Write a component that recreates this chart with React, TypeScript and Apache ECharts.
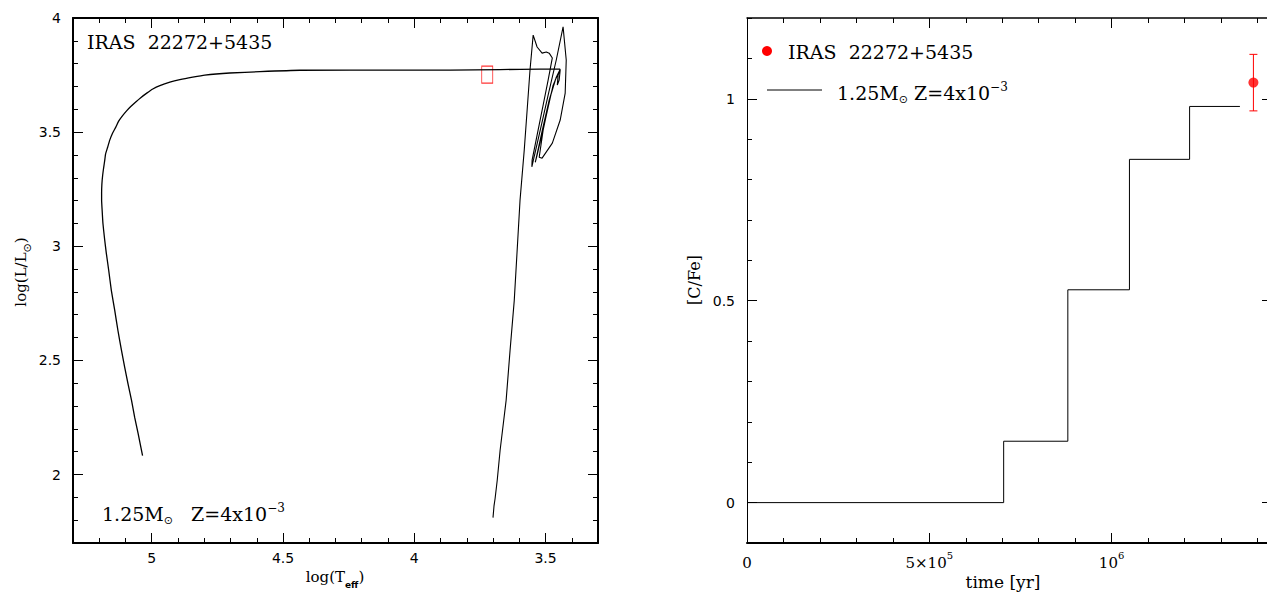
import React, { useEffect, useRef } from "react";
import * as echarts from "echarts";

// ---------- data ----------
const hrMajorX = [3.5, 4, 4.5, 5];
const hrMajorY = [2, 2.5, 3, 3.5, 4];
const cfeMajorX = [0, 5e5, 1e6];
const cfeMajorY = [0, 0.5, 1];

// AGB part of the 1.25 Msun, Z=4e-3 track: [log Teff, log L/Lsun]
const agbTrack: [number, number][] = [
  [3.700, 1.811], [3.696, 1.864], [3.692, 1.895], [3.684, 1.974], [3.673, 2.105],
  [3.650, 2.325], [3.635, 2.544], [3.619, 2.763], [3.608, 2.982], [3.597, 3.202],
  [3.581, 3.421], [3.570, 3.596], [3.559, 3.772], [3.547, 3.925],
  [3.532, 3.873], [3.513, 3.846], [3.497, 3.851], [3.486, 3.846], [3.474, 3.825],
  [3.490, 3.728], [3.509, 3.618], [3.532, 3.487], [3.551, 3.377], [3.552, 3.348],
  [3.520, 3.509], [3.490, 3.662], [3.459, 3.816], [3.433, 3.961],
  [3.421, 3.816], [3.425, 3.671], [3.444, 3.553], [3.474, 3.452], [3.513, 3.386], [3.524, 3.390],
  [3.509, 3.509], [3.482, 3.654], [3.459, 3.741], [3.444, 3.776],
  [3.471, 3.706], [3.501, 3.553], [3.532, 3.399], [3.539, 3.368],
  [3.512, 3.509], [3.486, 3.640], [3.463, 3.728], [3.444, 3.772],
  [3.448, 3.728], [3.455, 3.706], [3.452, 3.750], [3.444, 3.776],
];

// post-AGB / white dwarf cooling part
const postAgbTrack: [number, number][] = [
  [3.444, 3.776], [3.520, 3.776], [3.673, 3.774], [3.863, 3.772], [4.054, 3.772],
  [4.436, 3.771], [4.588, 3.765], [4.703, 3.759], [4.798, 3.750], [4.844, 3.741],
  [4.893, 3.730], [4.931, 3.719], [4.969, 3.704], [4.996, 3.689], [5.019, 3.671],
  [5.042, 3.651], [5.061, 3.632], [5.080, 3.612], [5.095, 3.594], [5.111, 3.572],
  [5.126, 3.548], [5.137, 3.522], [5.149, 3.496], [5.160, 3.465], [5.168, 3.434],
  [5.176, 3.404], [5.179, 3.377], [5.183, 3.346], [5.187, 3.311], [5.190, 3.272],
  [5.191, 3.232], [5.191, 3.202], [5.189, 3.158], [5.186, 3.101], [5.180, 3.035],
  [5.173, 2.969], [5.164, 2.895], [5.154, 2.807], [5.141, 2.719], [5.129, 2.632],
  [5.116, 2.548], [5.103, 2.469], [5.090, 2.395], [5.077, 2.325], [5.065, 2.250],
  [5.052, 2.180], [5.035, 2.083],
];

const irasHR: [number, number][] = [[3.722, 3.752]];

// [C/Fe] vs time
const cfeTime = [0, 0.704e6, 0.880e6, 1.049e6, 1.214e6, 1.352e6];
const cfeValue = [0, 0.152, 0.527, 0.850, 0.981, 0.981];

// IRAS 22272+5435 : time, [C/Fe], low, high
const irasCFe: [number, number, number, number][] = [[1.389e6, 1.04, 0.97, 1.11]];

// ---------- helpers ----------
const stepTicks = (lo: number, hi: number, step: number) => {
  const out: number[] = [];
  const n = Math.round((hi - lo) / step);
  for (let i = 0; i <= n; i++) out.push(+(lo + i * step).toFixed(6));
  return out;
};

const SERIF = "DejaVu Serif";
const SANS = "DejaVu Sans";

type AxOpt = {
  grid: number;
  pos: string;
  min: number;
  max: number;
  inverse?: boolean;
  ticks: number[];
  len: number;
  line?: number;
  labels?: any;
};

const mkAxis = (o: AxOpt) => ({
  type: "value",
  gridIndex: o.grid,
  position: o.pos,
  min: o.min,
  max: o.max,
  inverse: !!o.inverse,
  splitLine: { show: false },
  axisLine: {
    show: !!o.line,
    onZero: false,
    lineStyle: { color: "#000", width: o.line || 1 },
  },
  axisTick: {
    show: true,
    inside: true,
    length: o.len,
    customValues: o.ticks,
    lineStyle: { color: "#000", width: 1 },
  },
  axisLabel: o.labels
    ? { show: true, customValues: o.ticks, ...o.labels }
    : { show: false },
});

export default function App() {
  const ref = useRef<HTMLDivElement>(null);

  useEffect(() => {
    if (!ref.current) return;
    const chart = echarts.init(ref.current, undefined, { renderer: "svg" });

    const hrMinorX = stepTicks(3.3, 5.3, 0.1);
    const hrMinorY = stepTicks(1.7, 4.0, 0.1);
    const cfeMinorX = stepTicks(0, 1.4e6, 1e5);
    const cfeMinorY = stepTicks(-0.1, 1.2, 0.1);

    const lblL = { color: "#000", fontFamily: SANS, fontSize: 14 };
    const lblR = { color: "#000", fontFamily: SANS, fontSize: 14 };

    const xAxes = [
      // left panel
      mkAxis({ grid: 0, pos: "bottom", min: 3.3, max: 5.3, inverse: true, ticks: hrMajorX, len: 10, line: 2,
        labels: { ...lblL, margin: 8, formatter: (v: number) => String(v) } }),
      mkAxis({ grid: 0, pos: "bottom", min: 3.3, max: 5.3, inverse: true, ticks: hrMinorX, len: 5 }),
      mkAxis({ grid: 0, pos: "top", min: 3.3, max: 5.3, inverse: true, ticks: hrMajorX, len: 10, line: 2 }),
      mkAxis({ grid: 0, pos: "top", min: 3.3, max: 5.3, inverse: true, ticks: hrMinorX, len: 5 }),
      // right panel
      mkAxis({ grid: 1, pos: "bottom", min: 0, max: 1.44e6, ticks: cfeMajorX, len: 10, line: 2,
        labels: {
          ...lblR, margin: 7,
          formatter: (v: number) => {
            if (v === 0) return "{a|0}";
            if (v === 5e5) return "{a|5×10}{s|5}";
            if (v === 1e6) return "{a|10}{s|6}";
            return "";
          },
          rich: {
            a: { fontFamily: SERIF, fontSize: 15, color: "#000", lineHeight: 20, verticalAlign: "bottom" },
            s: { fontFamily: SERIF, fontSize: 10, color: "#000", lineHeight: 10, verticalAlign: "top" },
          },
        } }),
      mkAxis({ grid: 1, pos: "bottom", min: 0, max: 1.44e6, ticks: cfeMinorX, len: 5 }),
      mkAxis({ grid: 1, pos: "top", min: 0, max: 1.44e6, ticks: cfeMajorX, len: 10, line: 1.5 }),
      mkAxis({ grid: 1, pos: "top", min: 0, max: 1.44e6, ticks: cfeMinorX, len: 5 }),
    ];

    const yAxes = [
      mkAxis({ grid: 0, pos: "left", min: 1.7, max: 4.0, ticks: hrMajorY, len: 10, line: 2,
        labels: { ...lblL, margin: 12, formatter: (v: number) => String(v) } }),
      mkAxis({ grid: 0, pos: "left", min: 1.7, max: 4.0, ticks: hrMinorY, len: 5 }),
      mkAxis({ grid: 0, pos: "right", min: 1.7, max: 4.0, ticks: hrMajorY, len: 10, line: 2 }),
      mkAxis({ grid: 0, pos: "right", min: 1.7, max: 4.0, ticks: hrMinorY, len: 5 }),
      mkAxis({ grid: 1, pos: "left", min: -0.1, max: 1.2, ticks: cfeMajorY, len: 10, line: 1,
        labels: { ...lblR, margin: 12, formatter: (v: number) => String(v) } }),
      mkAxis({ grid: 1, pos: "left", min: -0.1, max: 1.2, ticks: cfeMinorY, len: 5 }),
      mkAxis({ grid: 1, pos: "right", min: -0.1, max: 1.2, ticks: cfeMajorY, len: 10, line: 1.5 }),
      mkAxis({ grid: 1, pos: "right", min: -0.1, max: 1.2, ticks: cfeMinorY, len: 5 }),
    ];

    const richBase = (fs: number) => ({
      a: { fontFamily: SERIF, fontSize: fs, fill: "#000", color: "#000", lineHeight: 24, verticalAlign: "middle" },
      sub: { fontFamily: SANS, fontSize: 11, fill: "#000", color: "#000", lineHeight: 12, verticalAlign: "bottom" },
      sup: { fontFamily: SERIF, fontSize: 12, fill: "#000", color: "#000", lineHeight: 12, verticalAlign: "top" },
      b: { fontFamily: SANS, fontSize: 9, fontWeight: "bold", fill: "#000", color: "#000", lineHeight: 10, verticalAlign: "bottom" },
    });

    const txt = (x: number, y: number, text: string, fs: number, extra: any = {}) => ({
      type: "text",
      x,
      y,
      ...extra,
      style: {
        text,
        rich: richBase(fs),
        fill: "#000",
        fontFamily: SERIF,
        fontSize: fs,
        align: extra.align || "left",
        textAlign: extra.align || "left",
        verticalAlign: "middle",
        textVerticalAlign: "middle",
      },
    });

    const ccRich = (sp: string) => `{a|1.25M}{sub|⊙}{a|${sp}Z=4x10}{sup|−3}`;

    const option: any = {
      animation: false,
      backgroundColor: "#fff",
      grid: [
        { left: 73, top: 18, width: 525, height: 525, containLabel: false, outerBoundsMode: "none" },
        { left: 747, top: 18, width: 525, height: 525, containLabel: false, outerBoundsMode: "none" },
      ],
      xAxis: xAxes,
      yAxis: yAxes,
      series: [
        {
          type: "line",
          name: "agb",
          xAxisIndex: 0,
          yAxisIndex: 0,
          data: agbTrack,
          showSymbol: false,
          symbol: "none",
          lineStyle: { color: "#000", width: 1.1 },
        },
        {
          type: "line",
          name: "postagb",
          xAxisIndex: 0,
          yAxisIndex: 0,
          data: postAgbTrack,
          showSymbol: false,
          symbol: "none",
          smooth: 0.15,
          lineStyle: { color: "#000", width: 1.3 },
        },
        {
          type: "scatter",
          name: "IRAS HR",
          xAxisIndex: 0,
          yAxisIndex: 0,
          data: irasHR,
          symbol: "rect",
          symbolSize: [11, 17],
          itemStyle: { color: "rgba(0,0,0,0)", borderColor: "#ff0000", borderWidth: 1 },
        },
        {
          type: "line",
          name: "cfe",
          xAxisIndex: 4,
          yAxisIndex: 4,
          data: cfeTime.map((t, i) => [t, cfeValue[i]]),
          step: "end",
          showSymbol: false,
          symbol: "none",
          lineStyle: { color: "#000", width: 1 },
        },
        {
          type: "custom",
          name: "err",
          xAxisIndex: 4,
          yAxisIndex: 4,
          data: irasCFe,
          renderItem: (params: any, api: any) => {
            const x = api.value(0);
            const lo = api.coord([x, api.value(2)]);
            const hi = api.coord([x, api.value(3)]);
            const st = { stroke: "#ff0000", lineWidth: 1 };
            return {
              type: "group",
              children: [
                { type: "line", shape: { x1: lo[0], y1: lo[1], x2: hi[0], y2: hi[1] }, style: st },
                { type: "line", shape: { x1: lo[0] - 4, y1: lo[1], x2: lo[0] + 4, y2: lo[1] }, style: st },
                { type: "line", shape: { x1: hi[0] - 4, y1: hi[1], x2: hi[0] + 4, y2: hi[1] }, style: st },
              ],
            };
          },
        },
        {
          type: "scatter",
          name: "IRAS CFe",
          xAxisIndex: 4,
          yAxisIndex: 4,
          data: irasCFe.map((d) => [d[0], d[1]]),
          symbol: "circle",
          symbolSize: 10,
          itemStyle: { color: "#ff0000" },
        },
      ],
      graphic: [
        txt(87, 42, "{a|IRAS  22272+5435}", 19),
        txt(102, 514, ccRich("   "), 19),
        txt(335, 577, "{a|log(T}{b|eff}{a|)}", 15, { align: "center" }),
        txt(21, 272, "{a|log(L/L}{sub|⊙}{a|)}", 15, { align: "center", rotation: Math.PI / 2 }),
        txt(1003, 582, "{a|time [yr]}", 17, { align: "center" }),
        txt(694, 280, "{a|[C/Fe]}", 16, { align: "center", rotation: Math.PI / 2 }),
        { type: "circle", shape: { cx: 767, cy: 51, r: 5 }, style: { fill: "#ff0000" } },
        txt(788, 52, "{a|IRAS  22272+5435}", 19),
        { type: "line", shape: { x1: 767, y1: 90, x2: 822, y2: 90 }, style: { stroke: "#000", lineWidth: 1 } },
        txt(837, 93, ccRich(" "), 19),
      ],
    };

    chart.setOption(option);
    return () => chart.dispose();
  }, []);

  return (
    <div
      ref={ref}
      style={{ position: "fixed", left: 0, top: 0, width: 1267, height: 592, background: "#fff" }}
    />
  );
}
